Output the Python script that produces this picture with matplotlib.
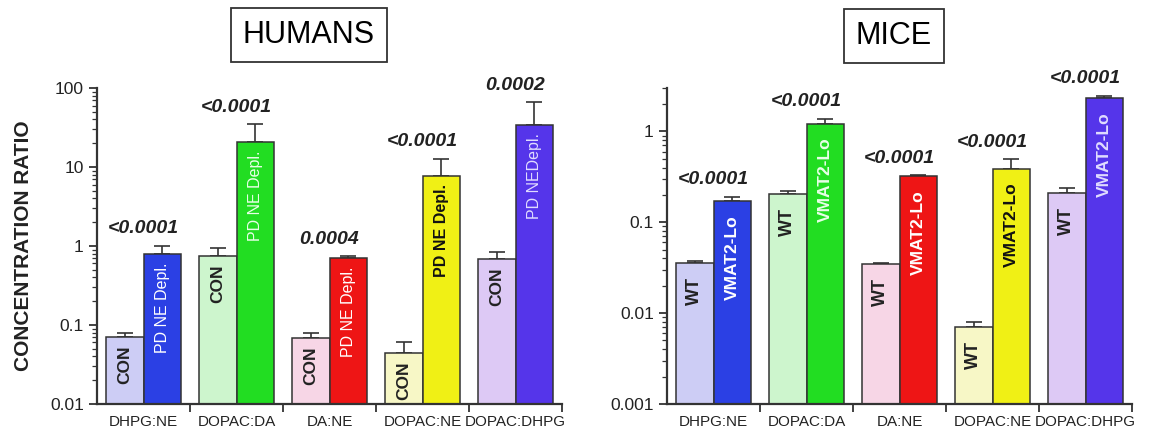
import matplotlib
matplotlib.use("Agg")
from matplotlib import pyplot as plt
from matplotlib.ticker import FixedLocator, LogLocator, NullFormatter
import numpy as np

plt.rcParams['font.family'] = ['Liberation Sans', 'DejaVu Sans']

# data
ratios = ["DHPG:NE", "DOPAC:DA", "DA:NE", "DOPAC:NE", "DOPAC:DHPG"]

human_con = [0.070, 0.75, 0.068, 0.044, 0.68]
human_con_err = [0.008, 0.19, 0.010, 0.017, 0.16]
human_pd = [0.79, 20.7, 0.70, 7.7, 34.0]
human_pd_err = [0.21, 14.0, 0.04, 5.0, 32.0]
human_p = ["<0.0001", "<0.0001", "0.0004", "<0.0001", "0.0002"]
human_pd_labels = ["PD NE Depl.", "PD NE Depl.", "PD NE Depl.", "PD NE Depl.", "PD NEDepl."]

mice_wt = [0.0354, 0.203, 0.035, 0.0070, 0.208]
mice_wt_err = [0.0016, 0.017, 0.001, 0.0009, 0.028]
mice_vmat = [0.170, 1.22, 0.32, 0.39, 2.31]
mice_vmat_err = [0.02, 0.16, 0.01, 0.10, 0.16]
mice_p = ["<0.0001", "<0.0001", "<0.0001", "<0.0001", "<0.0001"]

light_colors = ["#cdcdf5", "#cdf5cd", "#f7d6e6", "#f7f7c6", "#ddc9f5"]
dark_colors = ["#2b40e4", "#22dd22", "#ee1515", "#f0f015", "#5535ea"]
dark_text = ["white", "#e8ffe8", "white", "#111111", "#e0dcff"]

edge = "#333333"


def panel(ax, ctrl, ctrl_err, dis, dis_err, pvals, ctrl_lab, dis_labs,
          ctrl_size, lab_size, dis_weight, gap, ymin, ymax, yticks, yticklabels):
    x = np.arange(len(ratios))
    w = 0.4
    ax.bar(x - w / 2, ctrl, w, color=light_colors, edgecolor=edge, linewidth=1.1, zorder=2)
    ax.bar(x + w / 2, dis, w, color=dark_colors, edgecolor=edge, linewidth=1.1, zorder=2)
    ax.errorbar(x - w / 2, ctrl, yerr=[np.zeros(5), ctrl_err], fmt='none',
                ecolor=edge, elinewidth=1.2, capsize=6, capthick=1.2, zorder=1)
    ax.errorbar(x + w / 2, dis, yerr=[np.zeros(5), dis_err], fmt='none',
                ecolor=edge, elinewidth=1.2, capsize=6, capthick=1.2, zorder=1)

    for i in range(len(ratios)):
        ax.annotate(ctrl_lab, xy=(x[i] - w / 2, ctrl[i]), xytext=(0, -gap),
                    textcoords='offset points', rotation=90, ha='center', va='top',
                    fontsize=ctrl_size, fontweight='bold', color='#222222', zorder=3)
        wt = 'bold' if dark_colors[i] == "#f0f015" else dis_weight
        ax.annotate(dis_labs[i], xy=(x[i] + w / 2, dis[i]), xytext=(0, -gap),
                    textcoords='offset points', rotation=90, ha='center', va='top',
                    fontsize=lab_size, fontweight=wt, color=dark_text[i], zorder=3)
        top = max(ctrl[i] + ctrl_err[i], dis[i] + dis_err[i])
        ax.annotate(pvals[i], xy=(x[i], top), xytext=(0, 9),
                    textcoords='offset points', ha='center', va='baseline',
                    fontsize=14, fontstyle='italic', fontweight='bold', color='#222222')

    ax.set_yscale('log')
    ax.set_ylim(ymin, ymax)
    ax.set_xlim(-0.5, len(ratios) - 0.5)
    ax.yaxis.set_major_locator(FixedLocator(yticks))
    ax.set_yticklabels(yticklabels)
    ax.yaxis.set_minor_locator(LogLocator(base=10, subs=np.arange(2, 10)))
    ax.yaxis.set_minor_formatter(NullFormatter())
    ax.set_xticks(x)
    ax.set_xticklabels(ratios, fontsize=11, color='#222222')
    ax.set_xticks(np.arange(0.5, len(ratios)), minor=True)
    ax.tick_params(axis='x', which='major', length=0, pad=8)
    ax.tick_params(axis='x', which='minor', length=6, width=1.3, color=edge)
    ax.tick_params(axis='y', which='major', length=6, width=1.3, color=edge,
                   labelsize=12.5, labelcolor='#222222')
    ax.tick_params(axis='y', which='minor', length=3.5, width=0.9, color=edge)
    for s in ['top', 'right']:
        ax.spines[s].set_visible(False)
    for s in ['left', 'bottom']:
        ax.spines[s].set_linewidth(1.6)
        ax.spines[s].set_color(edge)


fig = plt.figure(figsize=(11.55, 4.4), dpi=100)
ax1 = fig.add_axes([0.084, 0.082, 0.4026, 0.718])
ax2 = fig.add_axes([0.5775, 0.082, 0.4026, 0.718])

panel(ax1, human_con, human_con_err, human_pd, human_pd_err, human_p,
      "CON", human_pd_labels, 12.5, 11.5, 'normal', 6,
      0.01, 100, [0.01, 0.1, 1, 10, 100], ["0.01", "0.1", "1", "10", "100"])
panel(ax2, mice_wt, mice_wt_err, mice_vmat, mice_vmat_err, mice_p,
      "WT", ["VMAT2-Lo"] * 5, 13, 12.5, 'bold', 10,
      0.001, 3.0, [0.001, 0.01, 0.1, 1], ["0.001", "0.01", "0.1", "1"])

ax1.set_ylabel("CONCENTRATION RATIO", fontsize=15, fontweight='bold', color='#222222', labelpad=12)

box = dict(boxstyle='square,pad=0.4', facecolor='white', edgecolor='#333333', linewidth=1.3)
fig.text(309 / 1155, 1 - 35 / 440, "HUMANS", fontsize=22, ha='center', va='center', bbox=box)
fig.text(894 / 1155, 1 - 36 / 440, "MICE", fontsize=22, ha='center', va='center', bbox=box)

fig.savefig("out.png", dpi=100)
